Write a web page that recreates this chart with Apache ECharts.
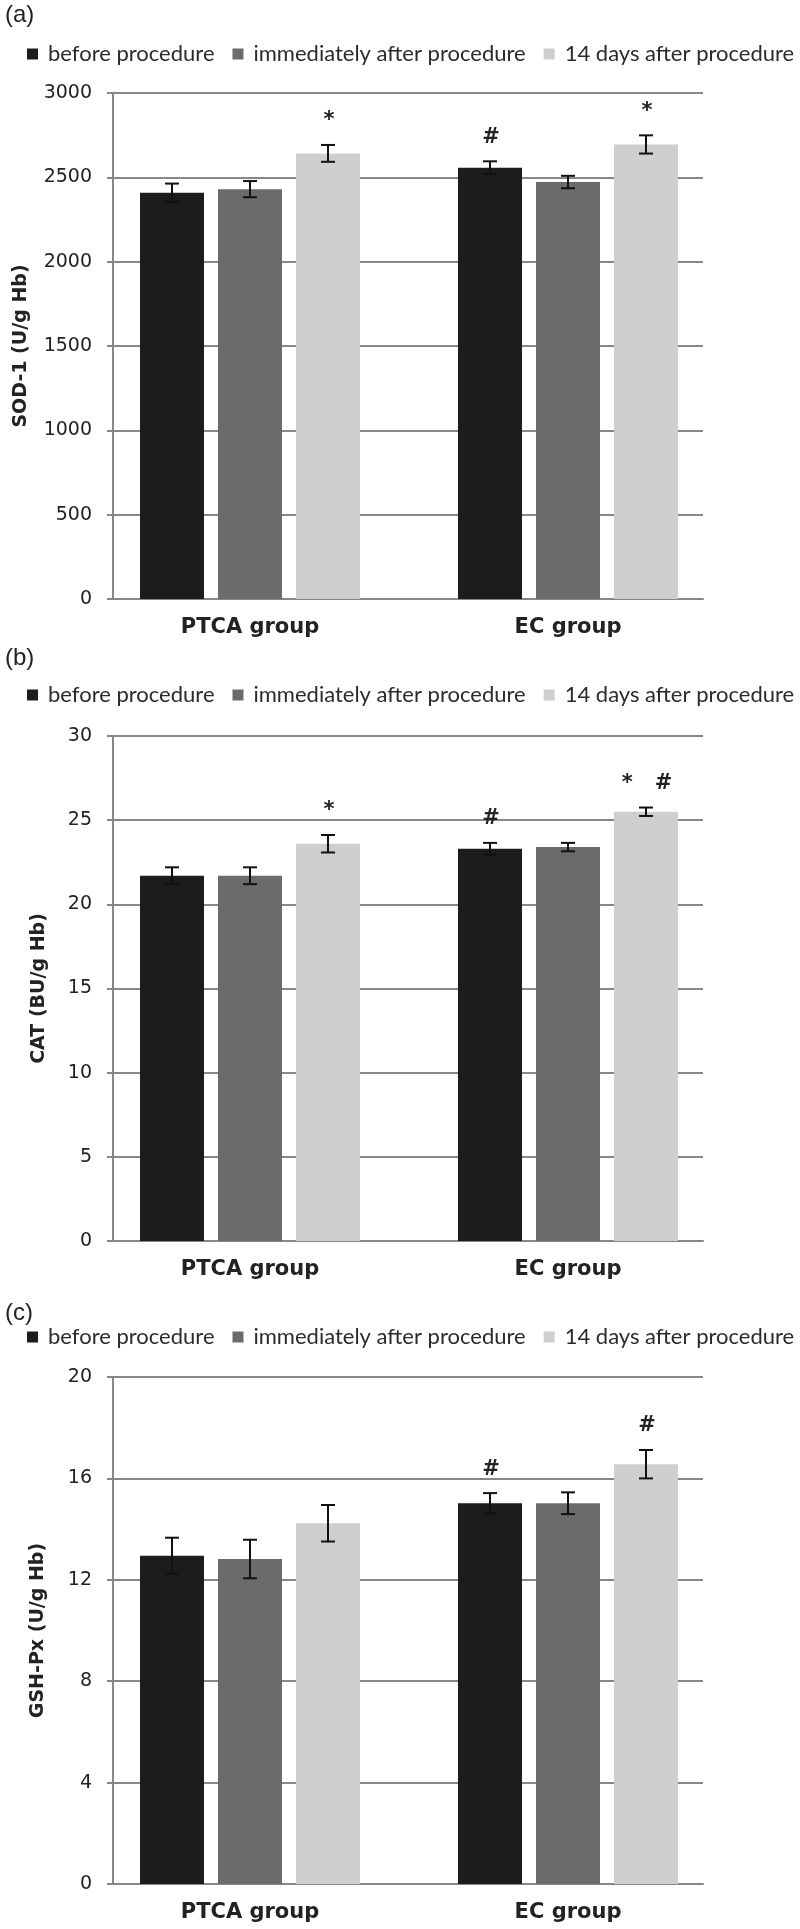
<!DOCTYPE html>
<html><head><meta charset="utf-8">
<script src="https://cdn.jsdelivr.net/npm/echarts@6/dist/echarts.min.js"></script>
<style>html,body{margin:0;padding:0;background:#fff}#c{width:800px;height:1929px}</style>
</head><body><div id="c"></div>
<script>
const categories = ['PTCA group', 'EC group'];
const seriesNames = ['before procedure', 'immediately after procedure', '14 days after procedure'];
const barColors = ['#1c1c1c', '#6b6b6b', '#cfcfcf'];

// (a) SOD-1
const sodBefore = [2408, 2557];
const sodImmediate = [2430, 2472];
const sodDay14 = [2642, 2695];
const sodErrBefore = [55, 38];
const sodErrImmediate = [48, 37];
const sodErrDay14 = [50, 54];
const sodMarkBefore = ['', '#'];
const sodMarkImmediate = ['', ''];
const sodMarkDay14 = ['*', '*'];
const sodAxis = [0, 3000, 500];

// (b) CAT
const catBefore = [21.7, 23.3];
const catImmediate = [21.7, 23.4];
const catDay14 = [23.6, 25.5];
const catErrBefore = [0.5, 0.35];
const catErrImmediate = [0.5, 0.25];
const catErrDay14 = [0.52, 0.25];
const catMarkBefore = ['', '#'];
const catMarkImmediate = ['', ''];
const catMarkDay14 = ['*', '*   #'];
const catAxis = [0, 30, 5];

// (c) GSH-Px
const gshBefore = [12.95, 15.02];
const gshImmediate = [12.82, 15.02];
const gshDay14 = [14.23, 16.56];
const gshErrBefore = [0.71, 0.4];
const gshErrImmediate = [0.76, 0.43];
const gshErrDay14 = [0.72, 0.56];
const gshMarkBefore = ['', '#'];
const gshMarkImmediate = ['', ''];
const gshMarkDay14 = ['', '#'];
const gshAxis = [0, 20, 4];

const BAR_W = 64, BAR_GAP = 14;
const GRID_COLOR = '#878787';

const panels = [
  {label: '(a)', yName: 'SOD-1 (U/g Hb)', axis: sodAxis,
   means: [sodBefore, sodImmediate, sodDay14], errs: [sodErrBefore, sodErrImmediate, sodErrDay14],
   marks: [sodMarkBefore, sodMarkImmediate, sodMarkDay14],
   top: 93, height: 506, legendTop: 43, labelY: 17, nameGap: 82},
  {label: '(b)', yName: 'CAT (BU/g Hb)', axis: catAxis,
   means: [catBefore, catImmediate, catDay14], errs: [catErrBefore, catErrImmediate, catErrDay14],
   marks: [catMarkBefore, catMarkImmediate, catMarkDay14],
   top: 736, height: 505, legendTop: 684, labelY: 660, nameGap: 64},
  {label: '(c)', yName: 'GSH-Px (U/g Hb)', axis: gshAxis,
   means: [gshBefore, gshImmediate, gshDay14], errs: [gshErrBefore, gshErrImmediate, gshErrDay14],
   marks: [gshMarkBefore, gshMarkImmediate, gshMarkDay14],
   top: 1377, height: 507, legendTop: 1326, labelY: 1315, nameGap: 65}
];

const option = {animation: false, backgroundColor: '#fff', grid: [], xAxis: [], yAxis: [], series: [], legend: [], graphic: []};

panels.forEach((p, i) => {
  const gv = 2 * i, gb = 2 * i + 1;
  option.grid.push({left: 113, width: 590, top: p.top, height: p.height, containLabel: false, outerBoundsMode: 'none'});
  option.grid.push({left: 91, width: 636, top: p.top, height: p.height, containLabel: false, outerBoundsMode: 'none'});
  option.xAxis.push({gridIndex: gv, type: 'category', data: categories,
    axisLine: {show: true, lineStyle: {color: GRID_COLOR, width: 2}},
    axisTick: {show: false}, axisLabel: {show: false}, splitLine: {show: false}});
  option.xAxis.push({gridIndex: gb, type: 'category', data: categories,
    axisLine: {show: false}, axisTick: {show: false}, splitLine: {show: false},
    axisLabel: {show: true, margin: 18, fontFamily: 'DejaVu Sans', fontWeight: 'bold', fontSize: 21, color: '#222'}});
  option.yAxis.push({gridIndex: gv, type: 'value', min: p.axis[0], max: p.axis[1], interval: p.axis[2],
    axisLine: {show: true, lineStyle: {color: GRID_COLOR, width: 2}},
    axisTick: {show: true, inside: false, length: 6, lineStyle: {color: GRID_COLOR, width: 2}},
    splitLine: {show: true, lineStyle: {color: GRID_COLOR, width: 2}},
    axisLabel: {margin: 21, fontFamily: 'DejaVu Sans', fontSize: 19, color: '#222',
      formatter: function (v) { return String(v); }},
    name: p.yName, nameLocation: 'middle', nameGap: p.nameGap, nameRotate: 90,
    nameTextStyle: {fontFamily: 'DejaVu Sans', fontWeight: 'bold', fontSize: 19, color: '#222'}});
  option.yAxis.push({gridIndex: gb, type: 'value', min: p.axis[0], max: p.axis[1], interval: p.axis[2], show: false});

  seriesNames.forEach((name, s) => {
    option.series.push({type: 'bar', name: name, xAxisIndex: gb, yAxisIndex: gb,
      data: p.means[s], barWidth: BAR_W, barGap: (BAR_GAP / BAR_W * 100) + '%',
      itemStyle: {color: barColors[s]}, z: 2});
  });

  const errData = [], markData = [];
  seriesNames.forEach((name, s) => {
    categories.forEach((c, ci) => {
      errData.push([ci, s, p.means[s][ci], p.errs[s][ci]]);
      markData.push(p.marks[s][ci]);
    });
  });
  option.series.push({type: 'custom', xAxisIndex: gb, yAxisIndex: gb, z: 5, silent: true,
    encode: {x: 0, y: 2}, data: errData,
    renderItem: function (params, api) {
      const c = api.value(0), s = api.value(1), m = api.value(2), e = api.value(3);
      const top = api.coord([c, m + e]);
      const bot = api.coord([c, m - e]);
      const x = top[0] + (s - 1) * (BAR_W + BAR_GAP);
      const cap = 7;
      const st = {stroke: '#111', lineWidth: 2};
      const children = [
        {type: 'line', shape: {x1: x, y1: top[1], x2: x, y2: bot[1]}, style: st},
        {type: 'line', shape: {x1: x - cap, y1: top[1], x2: x + cap, y2: top[1]}, style: st},
        {type: 'line', shape: {x1: x - cap, y1: bot[1], x2: x + cap, y2: bot[1]}, style: st}
      ];
      const mk = markData[params.dataIndex];
      if (mk) {
        children.push({type: 'text', x: x + 1, y: top[1] - 24,
          style: {text: mk, fill: '#222', font: 'bold 21px DejaVu Sans', align: 'center', verticalAlign: 'middle'}});
      }
      return {type: 'group', children: children};
    }});

  option.legend.push({data: seriesNames, left: 27, top: p.legendTop, orient: 'horizontal', padding: 0,
    itemWidth: 11, itemHeight: 11, itemGap: 18, icon: 'rect', selectedMode: false,
    textStyle: {fontFamily: 'Lato', fontSize: 22, color: '#2b2b2b', padding: [0, 0, 0, 5]}});

  option.graphic.push({type: 'text', left: 5, top: p.labelY - 14,
    style: {text: p.label, font: '24px Liberation Sans', fill: '#222'}});
});

const chart = echarts.init(document.getElementById('c'), null, {renderer: 'canvas'});
chart.setOption(option);
</script>
</body></html>
